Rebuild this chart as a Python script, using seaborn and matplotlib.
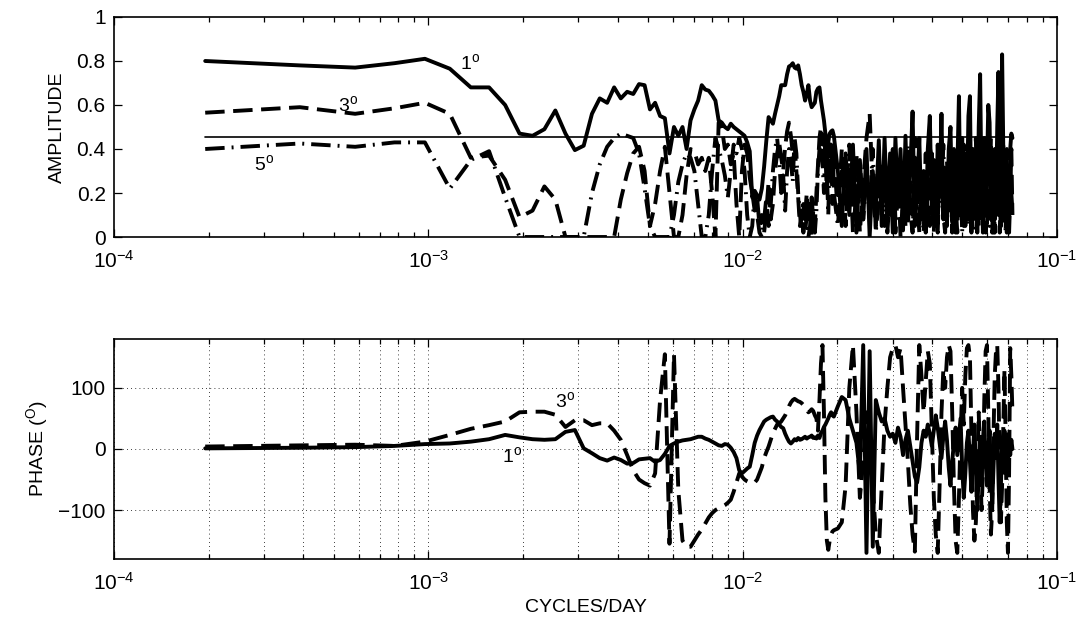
import numpy as np
import matplotlib
matplotlib.use("Agg")
import matplotlib.pyplot as plt
import seaborn as sns
from matplotlib.ticker import LogLocator, NullFormatter, FixedLocator, FuncFormatter

# Frequency grid: harmonics of the fundamental (cycles/day)
df_cpd = 1.95e-4
harmonic = list(range(1, 101)) + list(range(103, 371, 3))

# Coherence amplitude for the 1, 3 and 5 degree separations
amp_1 = [
    0.80, 0.78, 0.77, 0.79, 0.81, 0.765, 0.68, 0.68, 0.60, 0.47,
    0.46, 0.49, 0.575, 0.47, 0.395, 0.415, 0.56, 0.63, 0.61, 0.68,
    0.63, 0.66, 0.65, 0.695, 0.69, 0.58, 0.61, 0.55, 0.54, 0.38,
    0.50, 0.46, 0.50, 0.40, 0.53, 0.58, 0.62, 0.69, 0.67, 0.665,
    0.645, 0.62, 0.53, 0.52, 0.50, 0.49, 0.515, 0.50, 0.49, 0.48,
    0.47, 0.46, 0.43, 0.39, 0.18, 0.21, 0.19, 0.17, 0.22, 0.32,
    0.44, 0.545, 0.53, 0.515, 0.56, 0.60, 0.64, 0.69, 0.69, 0.69,
    0.74, 0.775, 0.78, 0.79, 0.77, 0.765, 0.78, 0.74, 0.69, 0.66,
    0.62, 0.65, 0.69, 0.62, 0.59, 0.60, 0.61, 0.66, 0.675, 0.68,
    0.62, 0.575, 0.53, 0.47, 0.41, 0.44, 0.47, 0.48, 0.485, 0.46,
    0.30, 0.05, 0.38, 0.10, 0.42, 0.02, 0.35, 0.08, 0.40, 0.00,
    0.30, 0.12, 0.44, 0.05, 0.45, 0.10, 0.38, 0.02, 0.45, 0.15,
    0.40, 0.03, 0.46, 0.10, 0.30, 0.57, 0.05, 0.20, 0.45, 0.08,
    0.30, 0.02, 0.40, 0.55, 0.10, 0.35, 0.05, 0.42, 0.20, 0.56,
    0.08, 0.30, 0.05, 0.40, 0.50, 0.12, 0.35, 0.02, 0.30, 0.64,
    0.10, 0.45, 0.05, 0.38, 0.15, 0.55, 0.64, 0.05, 0.40, 0.10,
    0.35, 0.02, 0.50, 0.74, 0.20, 0.05, 0.45, 0.10, 0.30, 0.60,
    0.52, 0.08, 0.35, 0.02, 0.40, 0.15, 0.50, 0.75, 0.30, 0.05,
    0.83, 0.40, 0.10, 0.35, 0.02, 0.30, 0.10, 0.40, 0.47, 0.45,
]
amp_3 = [
    0.565, 0.59, 0.56, 0.585, 0.61, 0.56, 0.36, 0.37, 0.26, 0.09,
    0.12, 0.23, 0.17, 0.0, 0.0, 0.0, 0.0, 0.0, 0.0, 0.0,
    0.17, 0.29, 0.38, 0.41, 0.30, 0.05, 0.15, 0.30, 0.41, 0.20,
    0.0, 0.0, 0.10, 0.28, 0.40, 0.39, 0.33, 0.36, 0.30, 0.36,
    0.20, 0.0, 0.52, 0.50, 0.40, 0.42, 0.33, 0.38, 0.15, 0.0,
    0.30, 0.42, 0.38, 0.27, 0.20, 0.12, 0.18, 0.05, 0.10, 0.02,
    0.12, 0.25, 0.08, 0.15, 0.30, 0.38, 0.43, 0.36, 0.30, 0.41,
    0.48, 0.52, 0.46, 0.38, 0.42, 0.30, 0.18, 0.05, 0.12, 0.02,
    0.10, 0.20, 0.06, 0.15, 0.00, 0.12, 0.05, 0.20, 0.33, 0.45,
    0.50, 0.42, 0.48, 0.38, 0.20, 0.45, 0.30, 0.42, 0.15, 0.38,
    0.10, 0.40, 0.05, 0.30, 0.12, 0.38, 0.02, 0.25, 0.45, 0.56,
    0.20, 0.05, 0.30, 0.10, 0.35, 0.02, 0.22, 0.40, 0.08, 0.30,
    0.00, 0.18, 0.35, 0.05, 0.25, 0.10, 0.45, 0.20, 0.02, 0.30,
    0.12, 0.38, 0.05, 0.48, 0.15, 0.02, 0.30, 0.08, 0.25, 0.46,
    0.10, 0.02, 0.35, 0.12, 0.28, 0.05, 0.40, 0.15, 0.02, 0.32,
    0.08, 0.25, 0.42, 0.05, 0.20, 0.10, 0.38, 0.02, 0.30, 0.15,
    0.45, 0.05, 0.22, 0.08, 0.35, 0.02, 0.28, 0.40, 0.06, 0.20,
    0.10, 0.45, 0.02, 0.25, 0.08, 0.38, 0.12, 0.30, 0.02, 0.20,
    0.10, 0.42, 0.05, 0.25, 0.12, 0.30, 0.02, 0.18, 0.40, 0.10,
]
amp_5 = [
    0.40, 0.425, 0.41, 0.43, 0.43, 0.22, 0.35, 0.39, 0.18, 0.0,
    0.0, 0.0, 0.0, 0.0, 0.0, 0.0, 0.20, 0.33, 0.41, 0.45,
    0.47, 0.46, 0.45, 0.38, 0.22, 0.05, 0.0, 0.0, 0.0, 0.0,
    0.10, 0.25, 0.33, 0.38, 0.36, 0.30, 0.15, 0.0, 0.0, 0.10,
    0.30, 0.45, 0.40, 0.35, 0.28, 0.18, 0.30, 0.42, 0.38, 0.45,
    0.40, 0.30, 0.10, 0.0, 0.05, 0.20, 0.10, 0.02, 0.0, 0.08,
    0.18, 0.05, 0.15, 0.30, 0.40, 0.45, 0.35, 0.20, 0.28, 0.12,
    0.30, 0.40, 0.35, 0.25, 0.45, 0.38, 0.20, 0.10, 0.05, 0.15,
    0.02, 0.10, 0.0, 0.05, 0.18, 0.08, 0.02, 0.12, 0.30, 0.40,
    0.44, 0.35, 0.20, 0.45, 0.30, 0.10, 0.38, 0.25, 0.42, 0.20,
    0.05, 0.30, 0.15, 0.42, 0.02, 0.20, 0.35, 0.08, 0.28, 0.12,
    0.40, 0.02, 0.18, 0.32, 0.05, 0.25, 0.10, 0.38, 0.02, 0.22,
    0.15, 0.30, 0.05, 0.42, 0.12, 0.02, 0.28, 0.35, 0.08, 0.20,
    0.02, 0.30, 0.15, 0.05, 0.38, 0.10, 0.22, 0.02, 0.30, 0.15,
    0.42, 0.05, 0.20, 0.12, 0.32, 0.02, 0.25, 0.40, 0.08, 0.15,
    0.30, 0.02, 0.35, 0.10, 0.20, 0.05, 0.42, 0.15, 0.02, 0.28,
    0.12, 0.35, 0.05, 0.20, 0.40, 0.08, 0.25, 0.02, 0.32, 0.15,
    0.05, 0.38, 0.12, 0.22, 0.02, 0.30, 0.42, 0.08, 0.18, 0.05,
    0.35, 0.12, 0.25, 0.02, 0.40, 0.15, 0.08, 0.30, 0.20, 0.12,
]

# Phase (degrees) for the 1 and 3 degree separations
phase_1 = [
    1, 2, 3, 5, 8, 9, 12, 16, 23, 19,
    16, 15, 16, 28, 31, 1, -7, -15, -19, -14,
    -18, -24, -23, -17, -16, -15, -21, -18, -8, 5,
    9, 12, 14, 15, 16, 18, 20, 20, 17, 15,
    12, 9, 6, 5, 8, 7, 2, -5, -15, -35,
    -40, -36, -32, -29, -10, 10, 22, 31, 38, 45,
    48, 50, 52, 53, 48, 45, 40, 36, 34, 25,
    18, 12, 9, 12, 16, 14, 18, 15, 16, 18,
    20, 17, 19, 20, 22, 18, 19, 17, 22, 18,
    26, 30, 36, 40, 45, 50, 56, 60, 55, 53,
    70, 85, 80, 50, 30, 10, -40, 170, -170, 160,
    -160, 80, 60, 45, 50, 30, 20, 25, 10, 35,
    20, -10, 15, 30, 5, -20, -45, -55, -30, 10,
    30, 20, 40, 25, 5, 30, 55, 35, 10, -15,
    20, 45, 15, -30, -60, -20, 10, 35, -10, 20,
    50, -30, -80, -40, 10, 30, -20, -70, -10, 40,
    -30, -100, -40, 20, -50, 10, 45, -20, -60, 0,
    30, -40, -90, -30, 25, -15, 40, -50, -120, -60,
    10, -20, 30, -35, 5, -25, 20, -10, 15, 0,
]
phase_3 = [
    4, 6, 7, 5, 12, 23, 33, 39, 45, 60,
    61, 61, 56, 36, 47, 47, 39, 42, 42, 30,
    15, -10, -35, -50, -56, -60, -40, 80, 155, -155,
    155, -67, -150, -160, -160, -150, -140, -132, -122, -112,
    -105, -100, -97, -95, -92, -88, -83, -70, -55, -40,
    -45, -50, -53, -55, -56, -55, -50, -40, -30, -15,
    -5, 4, 15, 26, 33, 40, 42, 45, 50, 55,
    62, 70, 76, 80, 82, 80, 78, 77, 75, 72,
    68, 65, 60, 62, 65, 62, 55, 50, 30, 80,
    140, 170, 60, -80, -150, -165, -150, -140, -135, -133,
    -130, -120, -60, 100, 170, 60, -80, -20, 60, 20,
    -60, -140, -170, -60, 40, 100, 150, 165, 170, 150,
    165, 100, 40, -20, -90, -140, -168, 20, 170, 120,
    60, 110, 160, 140, 30, -80, -140, -170, -60, 60,
    130, 100, 150, 170, 160, 60, -60, -150, -170, -80,
    20, 100, 40, 120, 165, 170, 150, 20, -100, -150,
    -120, -40, 60, -20, -100, -40, 80, 160, 170, 60,
    -60, -140, -100, 20, 120, 160, 170, 100, -30, -120,
    -60, 40, 130, 20, -120, -170, -40, 165, 120, 60,
]

# 95% significance level for the amplitude
signif_level = 0.455

amp_ticks = [0, 0.2, 0.4, 0.6, 0.8, 1.0]
phase_ticks = [-100, 0, 100]

freq = np.array(harmonic) * df_cpd

sns.set_style("ticks")
plt.rcParams["font.family"] = ["Liberation Sans", "DejaVu Sans"]
plt.rcParams["mathtext.fontset"] = "custom"
plt.rcParams["mathtext.rm"] = "Liberation Sans"
plt.rcParams["mathtext.it"] = "Liberation Sans:italic"
plt.rcParams["mathtext.bf"] = "Liberation Sans:bold"
plt.rcParams["axes.unicode_minus"] = True
plt.rcParams["text.color"] = "k"
plt.rcParams["axes.labelcolor"] = "k"
plt.rcParams["xtick.color"] = "k"
plt.rcParams["ytick.color"] = "k"

fig = plt.figure(figsize=(10.84, 6.18), dpi=100)
ax1 = fig.add_axes([0.1052, 0.6165, 0.8699, 0.3560])
ax2 = fig.add_axes([0.1052, 0.0955, 0.8699, 0.3560])

LW = 2.8
dash = (0, (5.0, 2.2))
dashdot = (0, (5.0, 1.8, 0.5, 1.8))

for ax in (ax1, ax2):
    ax.set_xscale("log")

# amplitude panel
sns.lineplot(x=freq, y=amp_1, ax=ax1, color="k", lw=LW, estimator=None, sort=False)
sns.lineplot(x=freq, y=amp_3, ax=ax1, color="k", lw=LW, linestyle=dash,
             estimator=None, sort=False)
sns.lineplot(x=freq, y=amp_5, ax=ax1, color="k", lw=LW, linestyle=dashdot,
             estimator=None, sort=False)
sns.lineplot(x=[freq[0], freq[-1]], y=[signif_level, signif_level], ax=ax1,
             color="k", lw=1.2, estimator=None, sort=False)

# phase panel
sns.lineplot(x=freq, y=phase_1, ax=ax2, color="k", lw=LW, estimator=None, sort=False)
sns.lineplot(x=freq, y=phase_3, ax=ax2, color="k", lw=LW, linestyle=dash,
             estimator=None, sort=False)

TICK_FS = 15
LABEL_FS = 14

for ax in (ax1, ax2):
    ax.set_xlim(1e-4, 1e-1)
    ax.xaxis.set_major_locator(LogLocator(base=10, numticks=10))
    ax.xaxis.set_minor_locator(LogLocator(base=10, subs=np.arange(2, 10), numticks=50))
    ax.xaxis.set_minor_formatter(NullFormatter())
    ax.tick_params(which="both", direction="in", top=True, right=True,
                   labelsize=TICK_FS, width=0.9, colors="k", labelcolor="k")
    ax.tick_params(which="major", length=6)
    ax.tick_params(which="minor", length=3.5)
    ax.tick_params(axis="x", which="major", pad=9)
    ax.tick_params(axis="y", which="major", pad=6)
    for sp in ax.spines.values():
        sp.set_linewidth(1.2)
        sp.set_color("k")
    ax.set_xlabel("")

ax1.set_ylim(0, 1)
ax1.yaxis.set_major_locator(FixedLocator(amp_ticks))
ax1.yaxis.set_major_formatter(FuncFormatter(lambda v, p: f"{v:g}"))
ax1.set_ylabel("AMPLITUDE", fontsize=LABEL_FS, labelpad=8, color="k")

ax2.set_ylim(-180, 180)
ax2.yaxis.set_major_locator(FixedLocator(phase_ticks))
ax2.yaxis.set_major_formatter(FuncFormatter(lambda v, p: f"{v:g}".replace("-", "\u2212")))
ax2.set_ylabel("PHASE ($^{\\mathrm{O}}$)", fontsize=LABEL_FS, labelpad=6, color="k")
ax2.set_xlabel("CYCLES/DAY", fontsize=LABEL_FS, labelpad=4, color="k")

grid_kw = dict(color="k", lw=0.6, linestyle=(0, (1, 4)))
ax2.grid(True, which="both", axis="x", **grid_kw)
ax2.grid(True, which="major", axis="y", **grid_kw)
ax2.set_axisbelow(True)

# curve labels
ann_fs = 14
ax1.text(1.36e-3, 0.79, "1$^{\\mathrm{o}}$", ha="center", va="center", fontsize=ann_fs)
ax1.text(5.55e-4, 0.60, "3$^{\\mathrm{o}}$", ha="center", va="center", fontsize=ann_fs)
ax1.text(3.0e-4, 0.33, "5$^{\\mathrm{o}}$", ha="center", va="center", fontsize=ann_fs)
ax2.text(1.84e-3, -12, "1$^{\\mathrm{o}}$", ha="center", va="center", fontsize=ann_fs)
ax2.text(2.72e-3, 78, "3$^{\\mathrm{o}}$", ha="center", va="center", fontsize=ann_fs)

fig.savefig("out.png", dpi=100)
